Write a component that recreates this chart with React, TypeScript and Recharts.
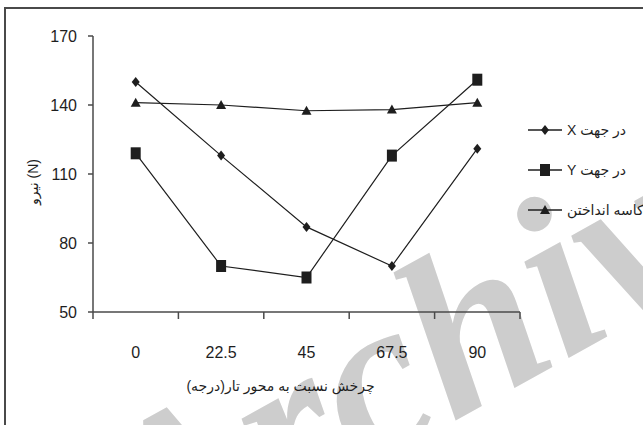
import { LineChart, Line, XAxis, YAxis, Label } from "recharts";

// rotation of the sample relative to the warp direction (degrees)
const angles = ["0", "22.5", "45", "67.5", "90"];
// measured force (N)
const alongX = [150, 118, 87, 70, 121];
const alongY = [119, 70, 65, 118, 151];
const bagging = [141, 140, 137.5, 138, 141];
const forceTicks = [50, 80, 110, 140, 170];

const seriesNames = ["در جهت X", "در جهت Y", "کاسه انداختن"];

const data = angles.map((a, i) => ({
    idx: i,
    angle: a,
    x: alongX[i],
    y: alongY[i],
    bag: bagging[i],
}));

const INK = "#1e1e1e";
const AXIS = "#4a4a4a";
const FONT = "'Liberation Sans', Arial, 'DejaVu Sans', sans-serif";

const Diamond = ({ cx, cy }: any) => (
    <path d={`M${cx},${cy - 5} L${cx + 4},${cy} L${cx},${cy + 5} L${cx - 4},${cy} Z`} fill={INK} />
);
const Square = ({ cx, cy }: any) => <rect x={cx - 5} y={cy - 6} width={10} height={12} fill={INK} />;
const Triangle = ({ cx, cy }: any) => (
    <path d={`M${cx},${cy - 5} L${cx + 5},${cy + 4} L${cx - 5},${cy + 4} Z`} fill={INK} />
);

// numeric axis: half steps are the band edges (tick marks), whole steps carry the labels
const xTicks = [-0.5, 0, 0.5, 1, 1.5, 2, 2.5, 3, 3.5, 4, 4.5];
const XTick = ({ x, y, payload }: any) => {
    const v = payload.value;
    if (Number.isInteger(v)) {
        return (
            <text x={x} y={y + 46} textAnchor="middle" fontSize={16} fill={INK} fontFamily={FONT}>
                {angles[v]}
            </text>
        );
    }
    return <line x1={x} y1={y} x2={x} y2={y + 7} stroke={AXIS} strokeWidth={1.5} />;
};

const XTitle = ({ viewBox }: any) => (
    <text
        x={viewBox.x + viewBox.width / 2 - 26}
        y={viewBox.y + 79}
        textAnchor="middle"
        direction="rtl"
        fontSize={14}
        fill={INK}
        fontFamily={FONT}
    >
        چرخش نسبت به محور تار(درجه)
    </text>
);

const YTitle = ({ viewBox }: any) => {
    const cx = 33;
    const cy = viewBox.y + viewBox.height / 2 + 8;
    return (
        <text
            x={cx}
            y={cy}
            transform={`rotate(-90 ${cx} ${cy})`}
            textAnchor="middle"
            dominantBaseline="central"
            fontSize={14}
            fill={INK}
            fontFamily={FONT}
        >
            نیرو (N)
        </text>
    );
};

const legendMarkers = [Diamond, Square, Triangle];

const Legend = () => (
    <div style={{ position: "absolute", left: 527, top: 120, fontFamily: FONT, fontSize: 14, color: INK }}>
        {seriesNames.map((name, i) => {
            const M = legendMarkers[i];
            return (
                <div key={name} style={{ display: "flex", alignItems: "center", height: 40, marginTop: i ? 0 : -10 }}>
                    <svg width={36} height={20}>
                        <line x1={1} y1={10} x2={35} y2={10} stroke={INK} strokeWidth={1.5} />
                        <M cx={18} cy={10} />
                    </svg>
                    <span dir="rtl" style={{ marginLeft: 4, whiteSpace: "nowrap" }}>
                        {name}
                    </span>
                </div>
            );
        })}
    </div>
);

export default function App() {
    return (
        <div
            style={{
                position: "absolute",
                left: 0,
                top: 0,
                width: 643,
                height: 425,
                overflow: "hidden",
                background: "#fff",
            }}
        >
            <div
                style={{
                    position: "absolute",
                    left: 4,
                    top: 7,
                    width: 700,
                    height: 500,
                    borderLeft: `2px solid ${AXIS}`,
                    borderTop: `2px solid ${AXIS}`,
                }}
            />
            {/* faint archive stamp behind the chart */}
            <svg width={643} height={425} style={{ position: "absolute", left: 0, top: 0 }}>
                <text
                    x={150}
                    y={590}
                    transform="rotate(-29 150 590)"
                    fontFamily="'Liberation Serif', serif"
                    fontStyle="italic"
                    fontWeight="bold"
                    fontSize={230}
                    fill="#cdcdcd"
                >
                    Archive
                </text>
            </svg>
            <div style={{ position: "absolute", left: 0, top: 0 }}>
                <LineChart width={643} height={425} data={data} margin={{ top: 36, right: 123, bottom: 0, left: 0 }}>
                    <XAxis
                        dataKey="idx"
                        type="number"
                        domain={[-0.5, 4.5]}
                        ticks={xTicks}
                        interval={0}
                        height={113}
                        tickSize={0}
                        tickMargin={0}
                        tickLine={false}
                        tick={<XTick />}
                        axisLine={{ stroke: AXIS, strokeWidth: 1.5 }}
                    >
                        <Label content={<XTitle />} />
                    </XAxis>
                    <YAxis
                        type="number"
                        domain={[50, 170]}
                        ticks={forceTicks}
                        interval={0}
                        width={93}
                        tickSize={5}
                        tickMargin={11}
                        tickLine={{ stroke: AXIS, strokeWidth: 1.5 }}
                        axisLine={{ stroke: AXIS, strokeWidth: 1.5 }}
                        tick={{ fill: INK, fontSize: 16, fontFamily: FONT }}
                    >
                        <Label content={<YTitle />} />
                    </YAxis>
                    <Line
                        dataKey="x"
                        stroke={INK}
                        strokeWidth={1.2}
                        dot={<Diamond />}
                        activeDot={false}
                        isAnimationActive={false}
                    />
                    <Line
                        dataKey="y"
                        stroke={INK}
                        strokeWidth={1.2}
                        dot={<Square />}
                        activeDot={false}
                        isAnimationActive={false}
                    />
                    <Line
                        dataKey="bag"
                        stroke={INK}
                        strokeWidth={1.2}
                        dot={<Triangle />}
                        activeDot={false}
                        isAnimationActive={false}
                    />
                </LineChart>
            </div>
            <Legend />
        </div>
    );
}
